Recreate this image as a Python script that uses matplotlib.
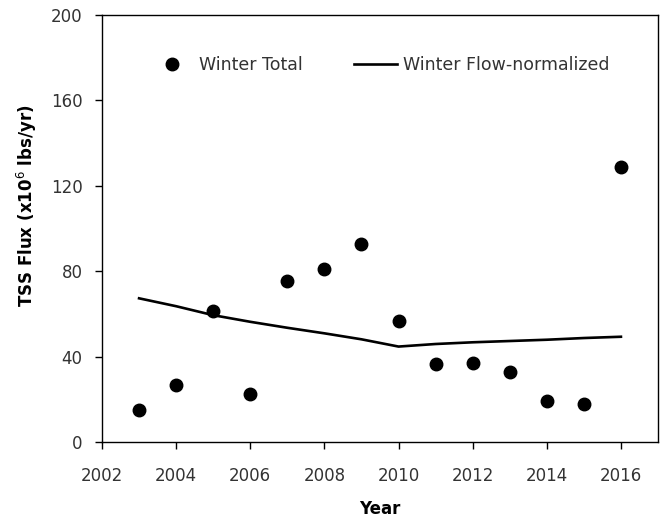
import matplotlib.pyplot as plt

# ==============================
# Data
# ==============================
years = [2003, 2004, 2005, 2006, 2007, 2008, 2009, 2010,
         2011, 2012, 2013, 2014, 2015, 2016]
winter_total = [15.2, 26.7, 61.4, 22.5, 75.2, 80.8, 92.9, 56.6,
                36.3, 37.1, 33.0, 19.2, 17.8, 129.0]
winter_flow_norm = [67.3, 63.6, 59.4, 56.3, 53.5, 50.9, 48.1, 44.7,
                    45.9, 46.7, 47.3, 47.9, 48.7, 49.3]
x_ticks = [2002, 2004, 2006, 2008, 2010, 2012, 2014, 2016]
y_ticks = [0, 40, 80, 120, 160, 200]

# ==============================
# Plot
# ==============================
W, H = 662, 522
fig = plt.figure(figsize=(W / 100, H / 100), dpi=100)
ax = fig.add_axes([102 / W, 1 - 442 / H, 556 / W, 427 / H])

ax.plot(years, winter_total, 'o', color='black', markersize=9,
        label='Winter Total', linestyle='none')
ax.plot(years, winter_flow_norm, '-', color='black', lw=1.9,
        label='Winter Flow-normalized')

ax.set_xlim(2002, 2017)
ax.set_ylim(0, 200)
ax.set_xticks(x_ticks)
ax.set_yticks(y_ticks)
ax.tick_params(direction='out', length=5, width=1, labelsize=12,
               labelcolor='#333333')
ax.tick_params(axis='x', pad=13)
ax.tick_params(axis='y', pad=9)
for s in ax.spines.values():
    s.set_linewidth(1)

ax.set_xlabel('Year', fontsize=12, fontweight='bold', labelpad=11)
ax.set_ylabel(r'TSS Flux (x10$^6$ lbs/yr)', fontsize=12,
              fontweight='bold')
ax.yaxis.set_label_coords(-0.114, 0.553)

ax.legend(loc='center left', bbox_to_anchor=(150 / W, 1 - 65 / H),
          bbox_transform=fig.transFigure, ncol=2, frameon=False,
          fontsize=12.5, handlelength=2.5, handletextpad=0.35,
          columnspacing=2.9, borderpad=0, borderaxespad=0,
          labelcolor='#333333')

fig.savefig('out.png', dpi=100)
